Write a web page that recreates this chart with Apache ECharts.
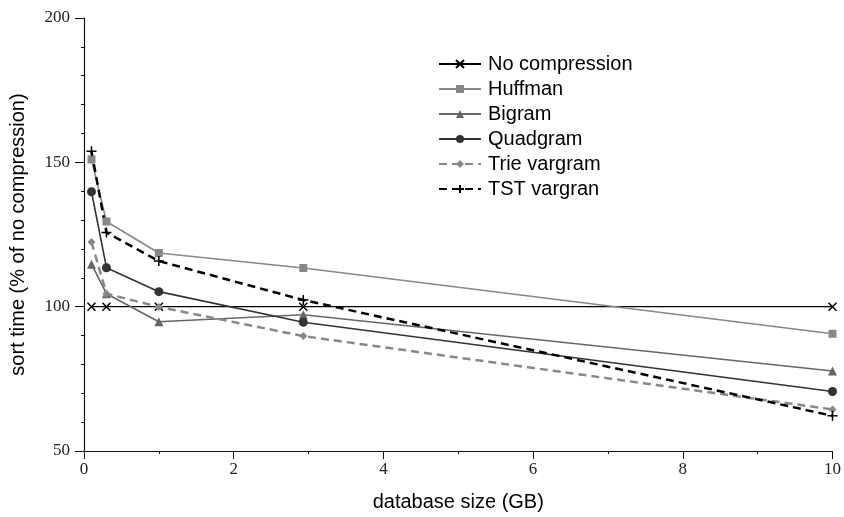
<!DOCTYPE html>
<html><head><meta charset="utf-8">
<script src="https://cdn.jsdelivr.net/npm/echarts@6/dist/echarts.min.js"></script>
<style>html,body{margin:0;padding:0;background:#fff}#c{width:844px;height:517px}</style>
</head><body><div id="c"></div>
<script>
const sizes = [0.1, 0.3, 1, 2.93, 10];
const noCompression = [100, 100, 100, 100, 100];
const huffman = [151, 129.5, 118.6, 113.4, 90.6];
const bigram = [114.7, 104.5, 94.8, 97.2, 77.7];
const quadgram = [139.8, 113.5, 105.2, 94.6, 70.6];
const trieVargram = [122.4, 104.5, 99.9, 89.8, 64.4];
const tstVargran = [153.8, 125.7, 115.8, 102.3, 62.2];
const yTicks = [50, 100, 150, 200];
const xTicks = [0, 2, 4, 6, 8, 10];

const pair = arr => sizes.map((x, i) => [x, arr[i]]);
const crossPath = 'path://M0,0L10,10M10,0L0,10';
const plusPath = 'path://M5,0L5,10M0,5L10,5';

const series = [
  {name:'No compression', data:pair(noCompression), color:'#000', width:1.2, type:'solid', symbol:crossPath, size:8, stroke:true},
  {name:'Huffman', data:pair(huffman), color:'#888', width:1.6, type:'solid', symbol:'rect', size:8},
  {name:'Bigram', data:pair(bigram), color:'#666', width:1.6, type:'solid', symbol:'triangle', size:9},
  {name:'Quadgram', data:pair(quadgram), color:'#333', width:1.6, type:'solid', symbol:'circle', size:9},
  {name:'Trie vargram', data:pair(trieVargram), color:'#888', width:2.5, type:[8,5], symbol:'diamond', size:8},
  {name:'TST vargran', data:pair(tstVargran), color:'#000', width:2.5, type:[8,5], symbol:plusPath, size:10, stroke:true}
].map(s => ({
  name: s.name, type: 'line', data: s.data,
  symbol: s.symbol, symbolSize: s.size, showSymbol: true,
  lineStyle: {color: s.color, width: s.width, type: s.type},
  itemStyle: s.stroke ? {color: 'rgba(0,0,0,0)', borderColor: s.color, borderWidth: 1.5} : {color: s.color, borderWidth: 0},
  emphasis: {disabled: true},
  animation: false
}));

const chart = echarts.init(document.getElementById('c'), null, {renderer: 'canvas'});
const tickFont = {fontFamily: '"Liberation Serif", serif', fontSize: 17, color: '#222'};
chart.setOption({
  backgroundColor: '#fff',
  animation: false,
  grid: {left: 79, right: 8, top: 18, bottom: 57, containLabel: false},
  legend: {
    left: 438, top: 54, orient: 'vertical', padding: 0,
    itemWidth: 42, itemHeight: 10, itemGap: 5,
    textStyle: {fontFamily: '"Liberation Sans", Arial, sans-serif', fontSize: 20, color: '#000', lineHeight: 20, padding: [0,0,0,2]},
    data: series.map(s => s.name)
  },
  xAxis: {
    type: 'value', min: xTicks[0], max: xTicks[xTicks.length-1], interval: 2,
    name: 'database size (GB)', nameLocation: 'middle', nameGap: 41,
    nameTextStyle: {fontFamily: '"Liberation Sans", Arial, sans-serif', fontSize: 20, color: '#000'},
    axisLine: {lineStyle: {color: '#111', width: 1.2}},
    axisTick: {show: true, length: 8, lineStyle: {color: '#111'}},
    minorTick: {show: true, splitNumber: 2, length: 3, lineStyle: {color: '#111'}},
    splitLine: {show: false},
    axisLabel: Object.assign({margin: 10}, tickFont)
  },
  yAxis: {
    type: 'value', min: yTicks[0], max: yTicks[yTicks.length-1], interval: 50,
    name: 'sort time (% of no compression)', nameLocation: 'middle', nameGap: 56,
    nameTextStyle: {fontFamily: '"Liberation Sans", Arial, sans-serif', fontSize: 20, color: '#000'},
    axisLine: {show: true, lineStyle: {color: '#111', width: 1.2}},
    axisTick: {show: true, length: 9, lineStyle: {color: '#111'}},
    minorTick: {show: true, splitNumber: 5, length: 3, lineStyle: {color: '#111'}},
    splitLine: {show: false},
    axisLabel: Object.assign({margin: 14}, tickFont)
  },
  series: series
});
</script></body></html>
